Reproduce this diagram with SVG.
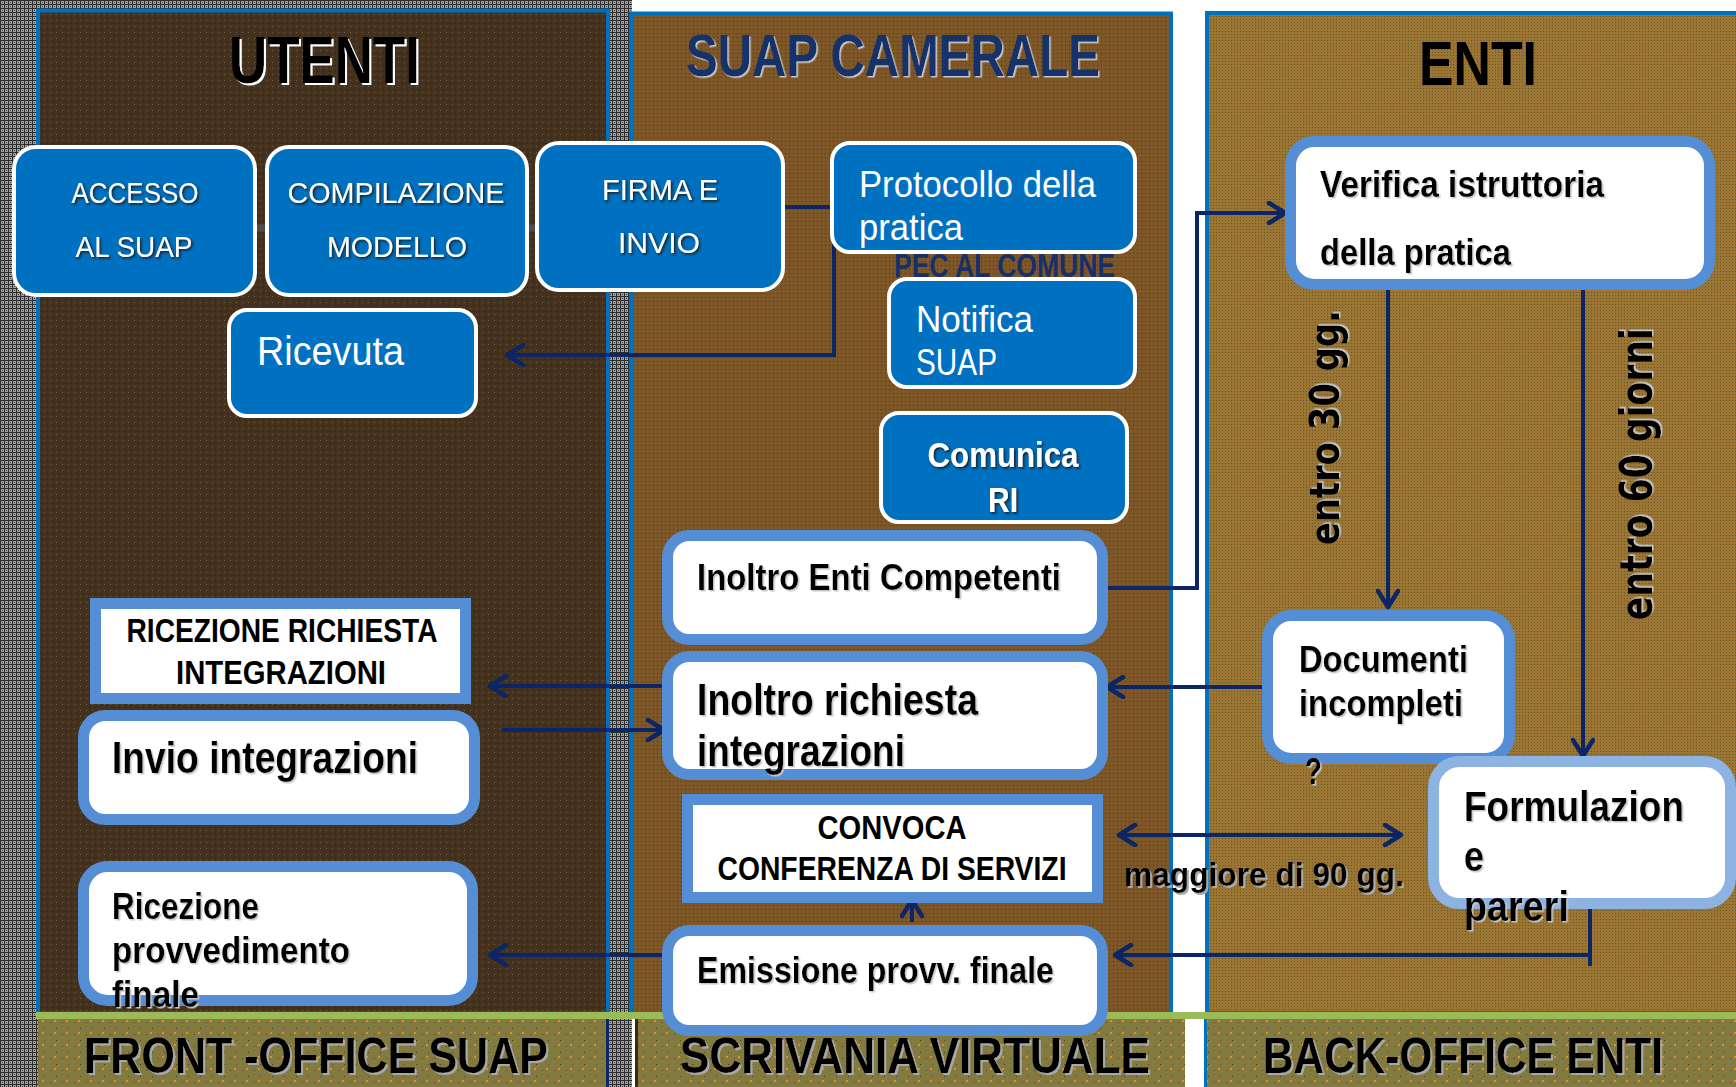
<svg xmlns="http://www.w3.org/2000/svg" width="1736" height="1087" viewBox="0 0 1736 1087">
<defs>
<style>
.t{font-family:'Liberation Sans Narrow','Liberation Sans',Arial,sans-serif;}
.v{font-family:'DejaVu Sans','Liberation Sans',sans-serif;font-weight:bold;}
.b{font-weight:bold;}
.w{fill:#fff;}
.k{fill:#000;}
.blue{fill:#0070c0;stroke:#fff;stroke-width:4;}
.wb{fill:#fff;stroke:#558ed5;stroke-width:11;}
.c{stroke:#0b2566;stroke-width:4;fill:none;}
.panel{stroke:#0070c0;stroke-width:4;}
</style>
<pattern id="pGrey" width="4" height="4" patternUnits="userSpaceOnUse"><rect width="4" height="4" fill="#aaa48f"/><path d="M0 0.5H4M0.5 0V4" stroke="#2b2b2b" stroke-width="1"/><rect x="2" y="2" width="1" height="1" fill="#3a3a3a"/></pattern>
<pattern id="pLeft" width="6" height="6" patternUnits="userSpaceOnUse"><rect width="6" height="6" fill="#44321e"/><rect x="2" y="2" width="1" height="1" fill="#6e604a"/><rect x="5" y="5" width="1" height="1" fill="#2a1e10"/></pattern>
<pattern id="pMid" width="4" height="4" patternUnits="userSpaceOnUse"><rect width="4" height="4" fill="#7d5728"/><rect x="1" y="1" width="1" height="1" fill="#4a3518"/></pattern>
<pattern id="pRight" width="3" height="3" patternUnits="userSpaceOnUse"><rect width="3" height="3" fill="#9d7532"/><rect x="1" y="1" width="1" height="1" fill="#5e5a2e"/></pattern>
<pattern id="pBand" width="12" height="12" patternUnits="userSpaceOnUse"><rect width="12" height="12" fill="#837a3f"/><rect x="2" y="2" width="1" height="1" fill="#4a4420"/><rect x="8" y="8" width="1" height="1" fill="#4a4420"/><rect x="6" y="0" width="2" height="2" fill="#e88a2e"/></pattern>
<filter id="shW" x="-5%" y="-10%" width="115%" height="130%"><feDropShadow dx="2" dy="2" stdDeviation="0" flood-color="#ffffff"/></filter>
<filter id="shG" x="-5%" y="-10%" width="115%" height="130%"><feDropShadow dx="2" dy="2" stdDeviation="0.5" flood-color="#a8a8a8"/></filter>
<filter id="shD" x="-5%" y="-10%" width="115%" height="130%"><feDropShadow dx="1.5" dy="1.5" stdDeviation="0.8" flood-color="#1a1a1a"/></filter>
<filter id="shL" x="-5%" y="-10%" width="115%" height="130%"><feDropShadow dx="1.5" dy="1.5" stdDeviation="0.5" flood-color="#c8c8c8"/></filter>
<marker id="ah" viewBox="0 0 22 24" markerWidth="22" markerHeight="24" refX="20" refY="12" orient="auto-start-reverse" markerUnits="userSpaceOnUse"><path d="M3 2 L19 12 L3 22" fill="none" stroke="#0b2566" stroke-width="4.5" stroke-linecap="round" stroke-linejoin="round"/></marker>
</defs>

<g id="background">
<rect x="0" y="0" width="1736" height="1087" fill="#fff"/>
<rect x="0" y="0" width="632" height="1087" fill="url(#pGrey)"/>
<rect class="panel" x="38" y="10.5" width="570" height="1003" fill="url(#pLeft)"/>
<rect class="panel" x="631" y="13.5" width="540" height="1000" fill="url(#pMid)"/>
<rect class="panel" x="1207" y="13" width="545" height="1000" fill="url(#pRight)"/>
<rect x="38" y="1019" width="569" height="68" fill="url(#pBand)"/>
<rect x="638" y="1019" width="547" height="68" fill="url(#pBand)"/>
<rect x="1206" y="1019" width="530" height="68" fill="url(#pBand)"/>
<rect x="606" y="1019" width="3" height="68" fill="#0b2566"/>
<rect x="635" y="1019" width="3" height="68" fill="#3a2a14"/>
<rect x="1204" y="1019" width="3" height="68" fill="#0070c0"/>
<rect x="36" y="1012" width="1700" height="7" fill="#9bbb59"/>
</g>

<g id="titles">
<text class="t b k" x="229" y="83" font-size="66" textLength="191" lengthAdjust="spacingAndGlyphs" filter="url(#shW)">UTENTI</text>
<text class="t b" x="686" y="76" font-size="60" textLength="414" lengthAdjust="spacingAndGlyphs" fill="#17306a" filter="url(#shL)">SUAP CAMERALE</text>
<text class="t b k" x="1419" y="85" font-size="63" textLength="118" lengthAdjust="spacingAndGlyphs">ENTI</text>
<text class="t b k" x="84" y="1073" font-size="50" textLength="464" lengthAdjust="spacingAndGlyphs" filter="url(#shG)">FRONT -OFFICE SUAP</text>
<text class="t b k" x="680" y="1073" font-size="50" textLength="470" lengthAdjust="spacingAndGlyphs" filter="url(#shG)">SCRIVANIA VIRTUALE</text>
<text class="t b k" x="1263" y="1073" font-size="50" textLength="400" lengthAdjust="spacingAndGlyphs" filter="url(#shG)">BACK-OFFICE ENTI</text>
</g>

<g id="labels">
<text class="t b" x="894" y="277" font-size="33" textLength="221" lengthAdjust="spacingAndGlyphs" fill="#17306a">PEC AL COMUNE</text>
<text class="v k" transform="translate(1339,545) rotate(-90)" font-size="41" textLength="235" lengthAdjust="spacingAndGlyphs" filter="url(#shL)">entro 30 gg.</text>
<text class="v k" transform="translate(1652,620) rotate(-90)" font-size="45" textLength="292" lengthAdjust="spacingAndGlyphs" filter="url(#shL)">entro 60 giorni</text>
<text class="t b k" x="1124" y="886" font-size="33" textLength="280" lengthAdjust="spacingAndGlyphs" filter="url(#shG)">maggiore di 90 gg.</text>
</g>

<g id="connectors">
<line x1="255" y1="228" x2="267" y2="228" stroke="#4d4d4d" stroke-width="7"/>
<line x1="527" y1="228" x2="537" y2="228" stroke="#4d4d4d" stroke-width="7"/>
<polyline class="c" points="783,207 834,207 834,355 506,355" marker-end="url(#ah)"/>
<polyline class="c" points="1103,588 1197,588 1197,213 1286,213" marker-end="url(#ah)"/>
<line class="c" x1="1388" y1="290" x2="1388" y2="608" marker-end="url(#ah)"/>
<line class="c" x1="1583" y1="290" x2="1583" y2="757" marker-end="url(#ah)"/>
<line class="c" x1="1262" y1="687" x2="1106" y2="687" marker-end="url(#ah)"/>
<line class="c" x1="662" y1="686" x2="489" y2="686" marker-end="url(#ah)"/>
<line class="c" x1="502" y1="730" x2="665" y2="730" marker-end="url(#ah)"/>
<line class="c" x1="1118" y1="835" x2="1402" y2="835" marker-start="url(#ah)" marker-end="url(#ah)"/>
<line class="c" x1="1590" y1="908" x2="1590" y2="966"/>
<line class="c" x1="1590" y1="955" x2="1114" y2="955" marker-end="url(#ah)"/>
<line class="c" x1="662" y1="955" x2="489" y2="955" marker-end="url(#ah)"/>
<line class="c" x1="912" y1="922" x2="912" y2="899" marker-end="url(#ah)"/>
</g>

<g id="accesso">
<rect class="blue" x="14" y="147" width="241" height="148" rx="22"/>
<text class="t w" x="135" y="203" font-size="29" text-anchor="middle" textLength="127" lengthAdjust="spacingAndGlyphs" filter="url(#shD)">ACCESSO</text>
<text class="t w" x="134" y="257" font-size="29" text-anchor="middle" textLength="117" lengthAdjust="spacingAndGlyphs" filter="url(#shD)">AL SUAP</text>
</g>
<g id="compilazione">
<rect class="blue" x="267" y="147" width="260" height="148" rx="22"/>
<text class="t w" x="396" y="203" font-size="29" text-anchor="middle" textLength="217" lengthAdjust="spacingAndGlyphs" filter="url(#shD)">COMPILAZIONE</text>
<text class="t w" x="397" y="257" font-size="29" text-anchor="middle" textLength="140" lengthAdjust="spacingAndGlyphs" filter="url(#shD)">MODELLO</text>
</g>
<g id="firma">
<rect class="blue" x="537" y="143" width="246" height="147" rx="22"/>
<text class="t w" x="660" y="200" font-size="29" text-anchor="middle" textLength="116" lengthAdjust="spacingAndGlyphs" filter="url(#shD)">FIRMA E</text>
<text class="t w" x="659" y="253" font-size="29" text-anchor="middle" textLength="82" lengthAdjust="spacingAndGlyphs" filter="url(#shD)">INVIO</text>
</g>
<g id="protocollo">
<rect class="blue" x="832" y="143" width="303" height="109" rx="18"/>
<text class="t w" x="859" y="197" font-size="37" textLength="237" lengthAdjust="spacingAndGlyphs">Protocollo della</text>
<text class="t w" x="859" y="240" font-size="37" textLength="104" lengthAdjust="spacingAndGlyphs">pratica</text>
</g>
<g id="notifica">
<rect class="blue" x="889" y="279" width="246" height="108" rx="18"/>
<text class="t w" x="916" y="332" font-size="36" textLength="117" lengthAdjust="spacingAndGlyphs">Notifica</text>
<text class="t w" x="916" y="375" font-size="36" textLength="81" lengthAdjust="spacingAndGlyphs">SUAP</text>
</g>
<g id="ricevuta">
<rect class="blue" x="229" y="310" width="247" height="106" rx="18"/>
<text class="t w" x="257" y="365" font-size="40" textLength="147" lengthAdjust="spacingAndGlyphs">Ricevuta</text>
</g>
<g id="comunica">
<rect class="blue" x="881" y="413" width="246" height="109" rx="18"/>
<text class="t b w" x="1003" y="467" font-size="35" text-anchor="middle" textLength="151" lengthAdjust="spacingAndGlyphs" filter="url(#shD)">Comunica</text>
<text class="t b w" x="1003" y="512" font-size="35" text-anchor="middle" textLength="30" lengthAdjust="spacingAndGlyphs" filter="url(#shD)">RI</text>
</g>

<g id="verifica">
<rect class="wb" x="1290.5" y="141.5" width="419" height="143" rx="24"/>
<text class="t b k" x="1320" y="197" font-size="37" textLength="284" lengthAdjust="spacingAndGlyphs" filter="url(#shL)">Verifica istruttoria</text>
<text class="t b k" x="1320" y="265" font-size="37" textLength="191" lengthAdjust="spacingAndGlyphs" filter="url(#shL)">della pratica</text>
</g>
<g id="inoltro-enti">
<rect class="wb" x="667.5" y="535.5" width="435" height="104" rx="22"/>
<text class="t b k" x="697" y="590" font-size="37" textLength="364" lengthAdjust="spacingAndGlyphs" filter="url(#shL)">Inoltro Enti Competenti</text>
</g>
<g id="inoltro-richiesta">
<rect class="wb" x="667.5" y="656.5" width="435" height="118" rx="22"/>
<text class="t b k" x="697" y="715" font-size="44" textLength="281" lengthAdjust="spacingAndGlyphs" filter="url(#shL)">Inoltro richiesta</text>
<text class="t b k" x="697" y="766" font-size="44" textLength="208" lengthAdjust="spacingAndGlyphs" filter="url(#shL)">integrazioni</text>
</g>
<g id="convoca">
<rect class="wb" x="687.5" y="799.5" width="410" height="98"/>
<text class="t b k" x="892" y="839" font-size="33" text-anchor="middle" textLength="149" lengthAdjust="spacingAndGlyphs">CONVOCA</text>
<text class="t b k" x="892" y="880" font-size="33" text-anchor="middle" textLength="349" lengthAdjust="spacingAndGlyphs">CONFERENZA DI SERVIZI</text>
</g>
<g id="emissione">
<rect class="wb" x="667.5" y="930.5" width="435" height="100" rx="22"/>
<text class="t b k" x="697" y="983" font-size="37" textLength="357" lengthAdjust="spacingAndGlyphs" filter="url(#shL)">Emissione provv. finale</text>
</g>
<g id="ricezione-richiesta">
<rect class="wb" x="95.5" y="603.5" width="370" height="95"/>
<text class="t b k" x="282" y="642" font-size="33" text-anchor="middle" textLength="311" lengthAdjust="spacingAndGlyphs">RICEZIONE RICHIESTA</text>
<text class="t b k" x="281" y="684" font-size="33" text-anchor="middle" textLength="210" lengthAdjust="spacingAndGlyphs">INTEGRAZIONI</text>
</g>
<g id="invio">
<rect class="wb" x="83.5" y="715.5" width="391" height="104" rx="22"/>
<text class="t b k" x="112" y="773" font-size="44" textLength="306" lengthAdjust="spacingAndGlyphs" filter="url(#shL)">Invio integrazioni</text>
</g>
<g id="ricezione-provv">
<rect class="wb" x="83.5" y="866.5" width="389" height="134" rx="24"/>
<text class="t b k" x="112" y="919" font-size="37" textLength="147" lengthAdjust="spacingAndGlyphs" filter="url(#shL)">Ricezione</text>
<text class="t b k" x="112" y="963" font-size="37" textLength="238" lengthAdjust="spacingAndGlyphs" filter="url(#shL)">provvedimento</text>
<text class="t b k" x="112" y="1007" font-size="37" textLength="87" lengthAdjust="spacingAndGlyphs" filter="url(#shL)">finale</text>
</g>
<g id="documenti">
<rect class="wb" x="1267.5" y="615.5" width="242" height="143" rx="24"/>
<text class="t b k" x="1299" y="672" font-size="36" textLength="169" lengthAdjust="spacingAndGlyphs" filter="url(#shL)">Documenti</text>
<text class="t b k" x="1299" y="716" font-size="36" textLength="164" lengthAdjust="spacingAndGlyphs" filter="url(#shL)">incompleti</text>
<text class="t b k" x="1305" y="784" font-size="36" textLength="17" lengthAdjust="spacingAndGlyphs" filter="url(#shL)">?</text>
</g>
<g id="formulazione">
<rect x="1433.5" y="761.5" width="297" height="142" rx="26" fill="#fff" stroke="#8db3e2" stroke-width="11"/>
<text class="t b k" x="1464" y="821" font-size="42" textLength="220" lengthAdjust="spacingAndGlyphs" filter="url(#shL)">Formulazion</text>
<text class="t b k" x="1464" y="871" font-size="42" textLength="20" lengthAdjust="spacingAndGlyphs" filter="url(#shL)">e</text>
<text class="t b k" x="1464" y="921" font-size="42" textLength="105" lengthAdjust="spacingAndGlyphs" filter="url(#shL)">pareri</text>
</g>
</svg>
